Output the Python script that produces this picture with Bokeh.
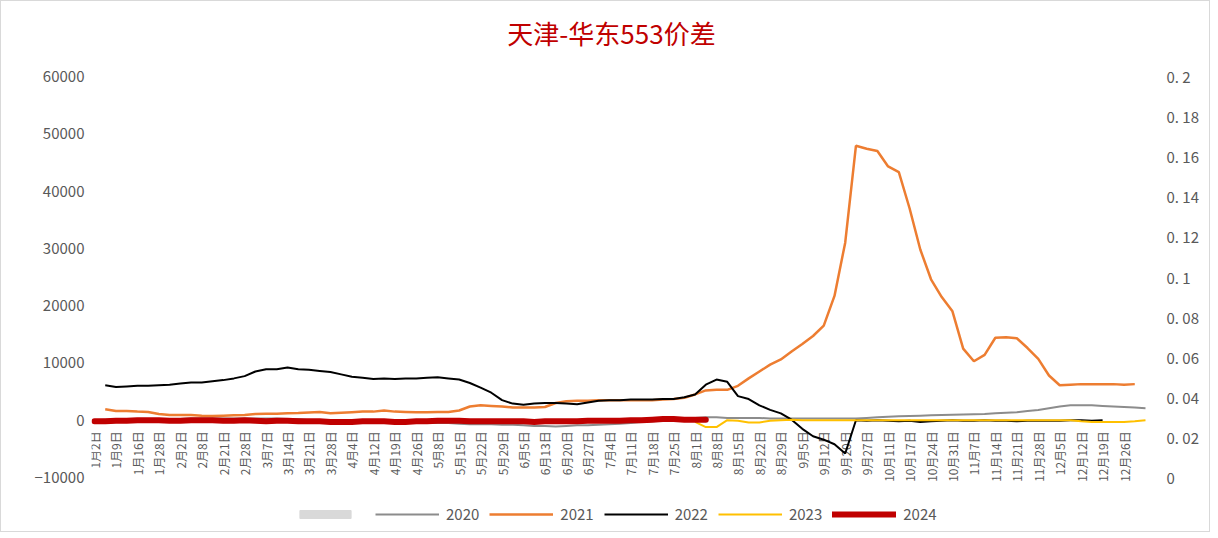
import math
from bokeh.plotting import figure
from bokeh.models import (LinearAxis, Range1d, Legend, LegendItem, FixedTicker,
                          CustomJSTickFormatter, Label)
from bokeh.embed import file_html
from bokeh.resources import INLINE
from bokeh.core.properties import value

nan = float("nan")

title_text = "天津-华东553价差"

categories = ["1月2日", "1月9日", "1月16日", "1月28日", "2月2日", "2月8日", "2月21日", "2月28日",
              "3月7日", "3月14日", "3月21日", "3月28日", "4月4日", "4月12日", "4月19日", "4月26日",
              "5月8日", "5月15日", "5月22日", "5月29日", "6月5日", "6月13日", "6月20日", "6月27日",
              "7月4日", "7月11日", "7月18日", "7月25日", "8月1日", "8月8日", "8月15日", "8月22日",
              "8月29日", "9月5日", "9月12日", "9月20日", "9月27日", "10月11日", "10月17日", "10月24日",
              "10月31日", "11月7日", "11月14日", "11月21日", "11月28日", "12月5日", "12月12日",
              "12月19日", "12月26日"]

# half-week sampling positions on the category axis
x_pos = [k / 2 for k in range(99)]

s2020 = [0, 100, 0, 0, 100, 0, -100, 100, 200, 300,
         300, 300, 300, 300, 300, 300, 300, 300, 200, 200,
         0, -200, -300, -400, -500, -500, -500, -400, -500, -500,
         -500, -500, -500, -500, -600, -700, -700, -700, -800, -800,
         -900, -1000, -1000, -1100, -1000, -900, -900, -800, -700, -600,
         -500, -300, -200, -100, 0, 100, 400, 500, 500, 400,
         400, 400, 400, 300, 300, 300, 300, 300, 300, 300,
         300, 300, 400, 500, 600, 700, 750, 800, 850, 900,
         950, 1000, 1050, 1100, 1200, 1300, 1400, 1600, 1800, 2100,
         2400, 2600, 2600, 2600, 2500, 2400, 2300, 2200, 2100]

s2021 = [nan, 1900, 1600, 1600, 1500, 1450, 1100, 900, 900, 900,
         800, 750, 800, 850, 900, 1100, 1150, 1150, 1200, 1250,
         1350, 1450, 1200, 1300, 1400, 1500, 1500, 1700, 1500, 1450,
         1400, 1400, 1450, 1450, 1700, 2400, 2600, 2500, 2400, 2200,
         2200, 2200, 2300, 3000, 3300, 3400, 3400, 3500, 3500, 3500,
         3500, 3500, 3500, 3600, 3700, 3900, 4500, 5200, 5300, 5300,
         6000, 7300, 8500, 9700, 10600, 12000, 13300, 14700, 16500, 21700,
         31000, 47900, 47400, 47000, 44300, 43300, 37000, 29800, 24600, 21500,
         19000, 12500, 10300, 11400, 14400, 14500, 14300, 12600, 10700, 7800,
         6100, 6200, 6300, 6300, 6300, 6300, 6200, 6300, nan]

s2022 = [nan, 6100, 5800, 5900, 6000, 6000, 6100, 6200, 6400, 6600,
         6600, 6800, 7000, 7300, 7700, 8500, 8900, 8900, 9200, 8900,
         8800, 8600, 8400, 8000, 7600, 7400, 7200, 7300, 7200, 7300,
         7300, 7400, 7500, 7300, 7100, 6500, 5700, 4800, 3500, 2900,
         2700, 2900, 3000, 3000, 2900, 2800, 3100, 3400, 3500, 3500,
         3600, 3600, 3600, 3700, 3700, 4000, 4500, 6200, 7100, 6700,
         4200, 3700, 2600, 1800, 1200, 100, -1500, -2800, -3400, -4200,
         -5800, 0, -100, 0, -100, -200, -100, -300, -200, -100,
         0, -100, -100, 0, -100, -100, -200, -100, -100, -100,
         -100, 0, 0, -100, 0, nan, nan, nan, nan]

s2023 = [nan] * 56 + [-300, -1200, -1200, 0,
         -100, -400, -400, -100, 0, 100, 0, 0, 0, 0,
         0, 0, 0, 0, 0, 0, 0, 0, 0, 0,
         0, 0, 0, 0, 0, 0, 0, 0, 0, 0,
         0, 0, -200, -300, -300, -300, -300, -200, 0]

s2024 = [-200, -200, -100, -100, 0, 0, 0, -100, -100, 0,
         0, 0, -100, -100, 0, -100, -200, -100, -100, -200,
         -200, -200, -300, -300, -300, -200, -200, -200, -300, -300,
         -200, -200, -100, -100, -100, -200, -200, -200, -200, -200,
         -200, -300, -200, -200, -200, -200, -100, -100, -100, -100,
         0, 0, 100, 200, 200, 100, 100, 100] + [nan] * 41

left_ticks = [-10000, 0, 10000, 20000, 30000, 40000, 50000, 60000]
right_ticks = [0, 0.02, 0.04, 0.06, 0.08, 0.1, 0.12, 0.14, 0.16, 0.18, 0.2]

TXT = "#595959"
FONT = "Noto Sans CJK SC"

# the frame spans the whole height so the title and the legend sit inside it;
# ticks stay fixed at -10000..60000 (left) and 0..0.2 (right)
p = figure(width=1210, height=532, output_backend="svg", toolbar_location=None,
           x_range=Range1d(-0.14, 49.14), y_range=Range1d(-19426, 73092),
           min_border_left=90, min_border_right=63, min_border_top=0, min_border_bottom=2)
p.extra_y_ranges = {"right": Range1d(-0.02693, 0.237406)}
p.styles = {"border": "1px solid #d9d9d9"}
p.outline_line_color = None
p.grid.visible = False
p.xaxis.visible = False

ya = p.yaxis[0]
ya.ticker = FixedTicker(ticks=left_ticks)
ya.axis_line_color = None
ya.major_tick_line_color = None
ya.minor_tick_line_color = None
ya.major_label_text_color = TXT
ya.major_label_text_font = FONT
ya.major_label_text_font_size = "15px"
ya.major_label_standoff = 1

ra = LinearAxis(y_range_name="right", ticker=FixedTicker(ticks=right_ticks),
                formatter=CustomJSTickFormatter(code="""
                    if (tick == 0) return '0';
                    let s = tick.toFixed(2).slice(2);
                    if (s.endsWith('0')) s = s.slice(0, -1);
                    return '0. ' + s;
                """))
ra.axis_line_color = None
ra.major_tick_line_color = None
ra.minor_tick_line_color = None
ra.major_label_text_color = TXT
ra.major_label_text_font = FONT
ra.major_label_text_font_size = "15px"
ra.major_label_standoff = 12
p.add_layout(ra, "right")

title = Label(x=520, y=499, x_units="screen", y_units="screen", text=title_text,
              text_align="center", text_baseline="middle", text_color="#C00000",
              text_font=FONT, text_font_size="26px")
p.add_layout(title)

# category labels hanging below the zero line
p.text(x=list(range(len(categories))), y=[0] * len(categories), text=categories,
       angle=math.pi / 2, text_align="right", text_baseline="middle", y_offset=11,
       text_color=TXT, text_font=value(FONT), text_font_size="12px")

# legend-only swatch (the reference shows an unlabeled grey block)
box = p.quad(left=[nan], right=[nan], bottom=[nan], top=[nan],
             fill_color="#d9d9d9", line_color="#d9d9d9")
r20 = p.line(x_pos, s2020, line_color="#8c8c8c", line_width=2)
r21 = p.line(x_pos, s2021, line_color="#ED7D31", line_width=2.5)
r22 = p.line(x_pos, s2022, line_color="#000000", line_width=2)
r23 = p.line(x_pos, s2023, line_color="#FFC000", line_width=2)
r24 = p.line(x_pos, s2024, line_color="#C00000", line_width=6, line_cap="round")

legend = Legend(items=[LegendItem(label=" ", renderers=[box]),
                       LegendItem(label="2020", renderers=[r20]),
                       LegendItem(label="2021", renderers=[r21]),
                       LegendItem(label="2022", renderers=[r22]),
                       LegendItem(label="2023", renderers=[r23]),
                       LegendItem(label="2024", renderers=[r24])],
                orientation="horizontal", location=(202, 7),
                glyph_width=64, glyph_height=10, label_standoff=7, spacing=10,
                label_width=1,
                padding=0, margin=0, border_line_color=None, background_fill_alpha=0,
                label_text_font=FONT, label_text_font_size="15px", label_text_color=TXT)
p.add_layout(legend, "center")

open("out.html", "w").write(file_html(p, INLINE))
